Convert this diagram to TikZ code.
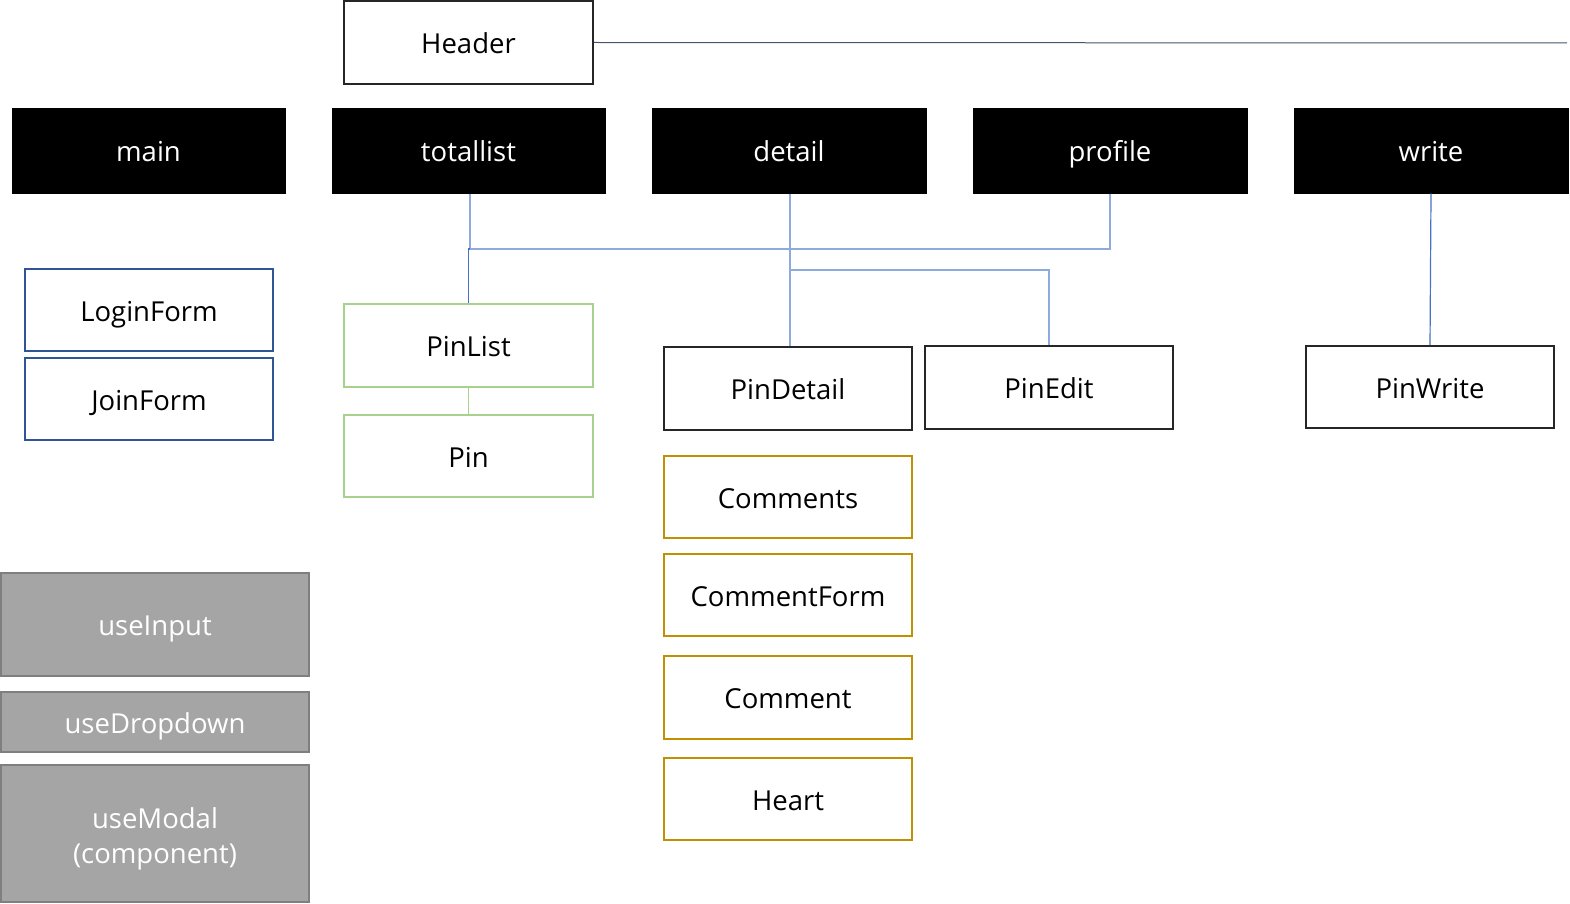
\documentclass[tikz,border=0pt]{standalone}
\usepackage{fontspec}
\setmainfont{Open Sans}
\definecolor{cblue}{HTML}{4472C4}
\definecolor{clblue}{HTML}{8FAADC}
\definecolor{cdblue}{HTML}{2F5597}
\definecolor{chdr}{HTML}{44546A}
\definecolor{cgreen}{HTML}{A9D18E}
\definecolor{corange}{HTML}{BF9000}
\definecolor{cgray}{HTML}{A5A5A5}
\definecolor{cgrayb}{HTML}{7F7F7F}
\definecolor{cbd}{HTML}{262626}
\begin{document}
\begin{tikzpicture}[x=1pt,y=-1pt,
  bx/.style={rectangle,inner sep=0pt,font=\fontsize{27.5}{35}\selectfont,text=black,text height=24pt,text depth=2pt},
  route/.style={draw=black,fill=black,text=white,line width=1pt},
  plain/.style={draw=cbd,line width=2pt},
  bluebx/.style={draw=cdblue,line width=1.8pt},
  greenbx/.style={draw=cgreen,line width=1.8pt},
  orangebx/.style={draw=corange,line width=1.8pt},
  graybx/.style={draw=cgrayb,fill=cgray,text=white,line width=2pt},
  graybx2/.style={rectangle,inner sep=0pt,font=\fontsize{27.5}{35}\selectfont,draw=cgrayb,fill=cgray,text=white,line width=2pt},
  conn/.style={draw=clblue,line width=1.2pt},
  connd/.style={draw=cblue,line width=1.6pt}
]
\useasboundingbox (0,0) rectangle (1570,904);
% Header
\node[bx,plain,minimum width=249,minimum height=83] (header) at (468.5,42.5) {Header};
\coordinate (hend) at (1567,43);
\draw[chdr,line width=1pt] (header.east) -- (hend);
% routes
\node[bx,route,minimum width=273,minimum height=84] (main) at (148.5,151) {main};
\node[bx,route,minimum width=273,minimum height=84] (totallist) at (468.5,151) {totallist};
\node[bx,route,minimum width=274,minimum height=84] (detail) at (789,151) {detail};
\node[bx,route,minimum width=274,minimum height=84] (profile) at (1110,151) {profile};
\node[bx,route,minimum width=274,minimum height=84] (write) at (1431,151) {write};
% main children
\node[bx,bluebx,minimum width=248,minimum height=82] (login) at (149,310) {LoginForm};
\node[bx,bluebx,minimum width=248,minimum height=82] (join) at (149,399) {JoinForm};
% totallist children
\node[bx,greenbx,minimum width=249,minimum height=83] (pinlist) at (468.5,345.5) {PinList};
\node[bx,greenbx,minimum width=249,minimum height=82] (pin) at (468.5,456) {Pin};
\draw[cgreen,line width=1.2pt] (pinlist.south) -- (pin.north);
% detail children
\node[bx,plain,minimum width=248,minimum height=83] (pindetail) at (788,388.5) {PinDetail};
\node[bx,plain,minimum width=248,minimum height=83] (pinedit) at (1049,387.5) {PinEdit};
\node[bx,plain,minimum width=248,minimum height=82] (pinwrite) at (1430,387) {PinWrite};
\node[bx,orangebx,minimum width=248,minimum height=82] (comments) at (788,497) {Comments};
\node[bx,orangebx,minimum width=248,minimum height=82] (commentform) at (788,595) {CommentForm};
\node[bx,orangebx,minimum width=248,minimum height=83] (comment) at (788,697.5) {Comment};
\node[bx,orangebx,minimum width=248,minimum height=82] (heart) at (788,799) {Heart};
% gray hooks
\node[bx,graybx,minimum width=308,minimum height=103] (useinput) at (155,624.5) {useInput};
\node[bx,graybx,minimum width=308,minimum height=60] (usedrop) at (155,722) {useDropdown};
\node[graybx2,minimum width=308,minimum height=137] (usemodal) at (155,833) {\raisebox{-12pt}[20pt][20pt]{\begin{tabular}{@{}c@{}}useModal\\(component)\end{tabular}}};
% connectors
\coordinate (j1) at (470,249);
\coordinate (j2) at (790,270);
\draw[conn] ([xshift=1.5pt]totallist.south) -- (j1) -- (j1 -| profile.south) -- (profile.south);
\draw[connd] (pinlist.north) -- (pinlist.north |- j1) -- (j1);
\draw[conn] ([xshift=1pt]detail.south) -- ([xshift=1pt]detail.south |- j2) -- (pindetail.north -| {(790,0)});
\draw[conn] (j2) -- (j2 -| pinedit.north) -- (pinedit.north);
\draw[connd,line width=1.2pt] (write.south) -- (pinwrite.north);
\end{tikzpicture}
\end{document}
